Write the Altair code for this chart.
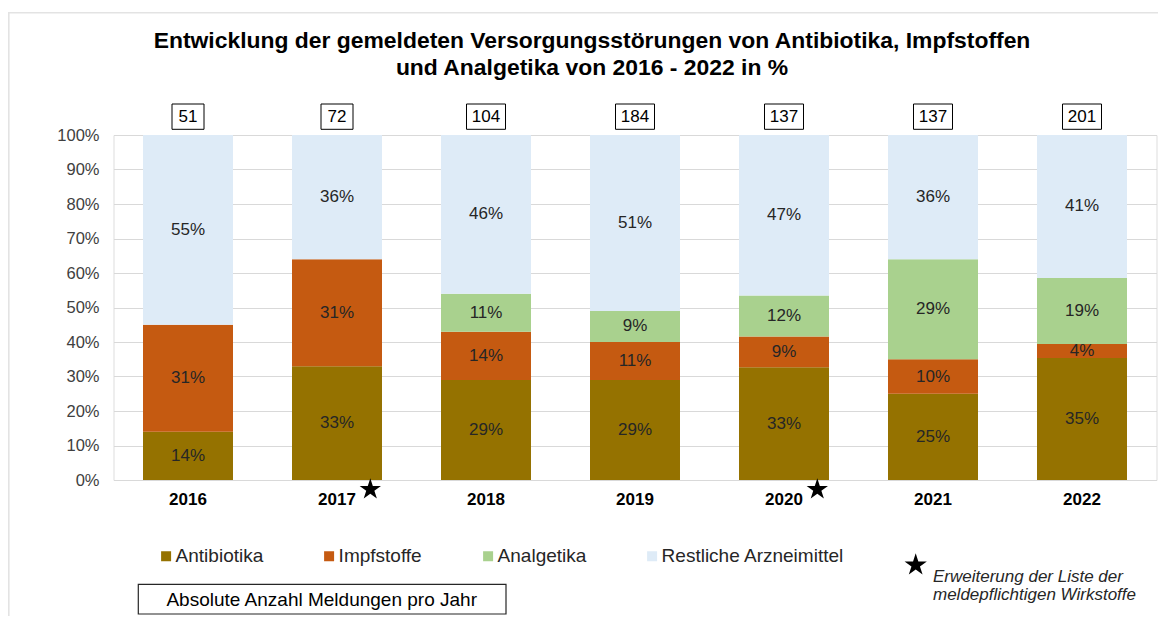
import altair as alt
import pandas as pd

# ---------------- data ----------------
years = ["2016", "2017", "2018", "2019", "2020", "2021", "2022"]
categories = ["Antibiotika", "Impfstoffe", "Analgetika", "Restliche Arzneimittel"]
antibiotika = [14, 33, 29, 29, 33, 25, 35]
impfstoffe = [31, 31, 14, 11, 9, 10, 4]
analgetika = [0, 0, 11, 9, 12, 29, 19]
restliche = [55, 36, 46, 51, 47, 36, 41]
totals = [51, 72, 104, 184, 137, 137, 201]
star_years = ["2017", "2020"]
colors = ["#957200", "#C55A11", "#A9D18E", "#DEEBF7"]
y_ticks = [0, 0.1, 0.2, 0.3, 0.4, 0.5, 0.6, 0.7, 0.8, 0.9, 1.0]

title_lines = [
    "Entwicklung der gemeldeten Versorgungsstörungen von Antibiotika, Impfstoffen",
    "und Analgetika von 2016 - 2022 in %",
]
box_label = "Absolute Anzahl Meldungen pro Jahr"
star_note = ["Erweiterung der Liste der", "meldepflichtigen Wirkstoffe"]

# ---------------- tables ----------------
series = [antibiotika, impfstoffe, analgetika, restliche]
rows = []
for ci, (cat, vals) in enumerate(zip(categories, series)):
    for yr, v in zip(years, vals):
        rows.append({"year": yr, "category": cat, "value": v, "order": ci, "label": f"{v}%"})
df = pd.DataFrame(rows)
cdf = pd.DataFrame({"year": years, "total": totals, "text": [str(t) for t in totals]})
sdf = pd.DataFrame({"year": star_years})
one = pd.DataFrame({"k": [0]})

FONT = "Liberation Sans"
STAR = ("M0,-1L0.2245,-0.309L0.951,-0.309L0.363,0.118L0.588,0.809L0,0.382"
        "L-0.588,0.809L-0.363,0.118L-0.951,-0.309L-0.2245,-0.309Z")

x_scale = alt.Scale(domain=years, paddingInner=0.396, paddingOuter=0.198)
x_axis = alt.Axis(title=None, labelFont=FONT, labelFontWeight="bold",
                  labelFontSize=17, labelColor="#000000", labelPadding=11,
                  ticks=False, tickSize=0, domainColor="#D9D9D9",
                  domainWidth=1, grid=False, labelAngle=0)
y_axis = alt.Axis(title=None, values=y_ticks, format=".0%", labelFont=FONT,
                  labelFontSize=16.5, labelColor="#404040", labelPadding=14.5,
                  ticks=False, tickSize=0, domain=False,
                  gridColor="#D9D9D9", gridWidth=1)
y_scale = alt.Scale(domain=[0, 1])
x_enc = alt.X("year:N", scale=x_scale, sort=years, axis=x_axis)

base = alt.Chart(df).transform_stack(
    stack="value", groupby=["year"], as_=["y0", "y1"], offset="normalize",
    sort=[alt.SortField("order", order="ascending")],
).transform_calculate(mid="(datum.y0 + datum.y1) / 2")

bars = base.mark_bar().encode(
    x=x_enc,
    y=alt.Y("y0:Q", scale=y_scale, axis=y_axis),
    y2="y1:Q",
    color=alt.Color("category:N", scale=alt.Scale(domain=categories, range=colors),
                    legend=alt.Legend(orient="none", legendX=42, legendY=411.5,
                                      direction="horizontal", title=None,
                                      symbolType="square", symbolSize=100,
                                      symbolStrokeWidth=0, symbolOffset=1.1,
                                      labelFont=FONT,
                                      labelFontSize=19, labelColor="#262626",
                                      labelOffset=0, columnPadding=55,
                                      labelLimit=400, padding=0)),
)

labels = base.transform_filter("datum.value > 0").mark_text(
    font=FONT, fontSize=17, color="#262626", baseline="middle"
).encode(x=x_enc, y=alt.Y("mid:Q", scale=y_scale, axis=y_axis), text="label:N")

box_small = alt.Chart(cdf).transform_filter("datum.total < 100").mark_bar(
    width=32, fill="white", stroke="#000000", strokeWidth=1
).encode(x=x_enc, y=alt.value(-31), y2=alt.value(-5.7))

box_large = alt.Chart(cdf).transform_filter("datum.total >= 100").mark_bar(
    width=39, fill="white", stroke="#000000", strokeWidth=1
).encode(x=x_enc, y=alt.value(-31), y2=alt.value(-5.7))

count_text = alt.Chart(cdf).mark_text(
    font=FONT, fontSize=17, color="#000000", baseline="middle"
).encode(x=x_enc, y=alt.value(-18.3), text="text:N")

stars = alt.Chart(sdf).mark_point(
    shape=STAR, size=502, filled=True, color="#000000", opacity=1,
    strokeWidth=0, xOffset=33.3
).encode(x=x_enc, y=alt.value(354.5))

title = alt.Chart(one).mark_text(
    text=title_lines, font=FONT, fontSize=22.9, fontWeight="bold", color="#000000",
    align="center", baseline="alphabetic", lineHeight=27.3
).encode(x=alt.value(478.5), y=alt.value(-87.3))

frame_top = alt.Chart(one).mark_rule(color="#E3E3E3", strokeWidth=1.6).encode(
    x=alt.value(-105.5), x2=alt.value(1044.5), y=alt.value(-122.2))
frame_left = alt.Chart(one).mark_rule(color="#E3E3E3", strokeWidth=1.6).encode(
    x=alt.value(-104.7), y=alt.value(-122.2), y2=alt.value(490))

note_box = alt.Chart(one).mark_rect(
    fill="white", stroke="#262626", strokeWidth=1.2
).encode(x=alt.value(24.8), x2=alt.value(392.5), y=alt.value(449.3), y2=alt.value(479))

note_box_text = alt.Chart(one).mark_text(
    text=box_label, font=FONT, fontSize=19, color="#000000",
    align="center", baseline="alphabetic"
).encode(x=alt.value(208.2), y=alt.value(470.7))

note_star = alt.Chart(one).mark_point(
    shape=STAR, size=548, filled=True, color="#000000", opacity=1, strokeWidth=0
).encode(x=alt.value(802.2), y=alt.value(430))

note_text = alt.Chart(one).mark_text(
    text=star_note, font=FONT, fontSize=17, fontStyle="italic", color="#262626",
    align="left", baseline="alphabetic", lineHeight=18
).encode(x=alt.value(819.5), y=alt.value(447))

chart = alt.layer(
    frame_top, frame_left, bars, labels, box_small, box_large, count_text,
    stars, title, note_box, note_box_text, note_star, note_text
).properties(
    width=1043, height=345,
    autosize=alt.AutoSizeParams(type="none"),
    padding={"left": 105.5, "top": 127, "right": 1.5, "bottom": 136},
    background="white",
).configure_view(strokeWidth=0, stroke="transparent").configure(font=FONT)

chart.save("out.html", embed_options={"renderer": "svg", "actions": False})
